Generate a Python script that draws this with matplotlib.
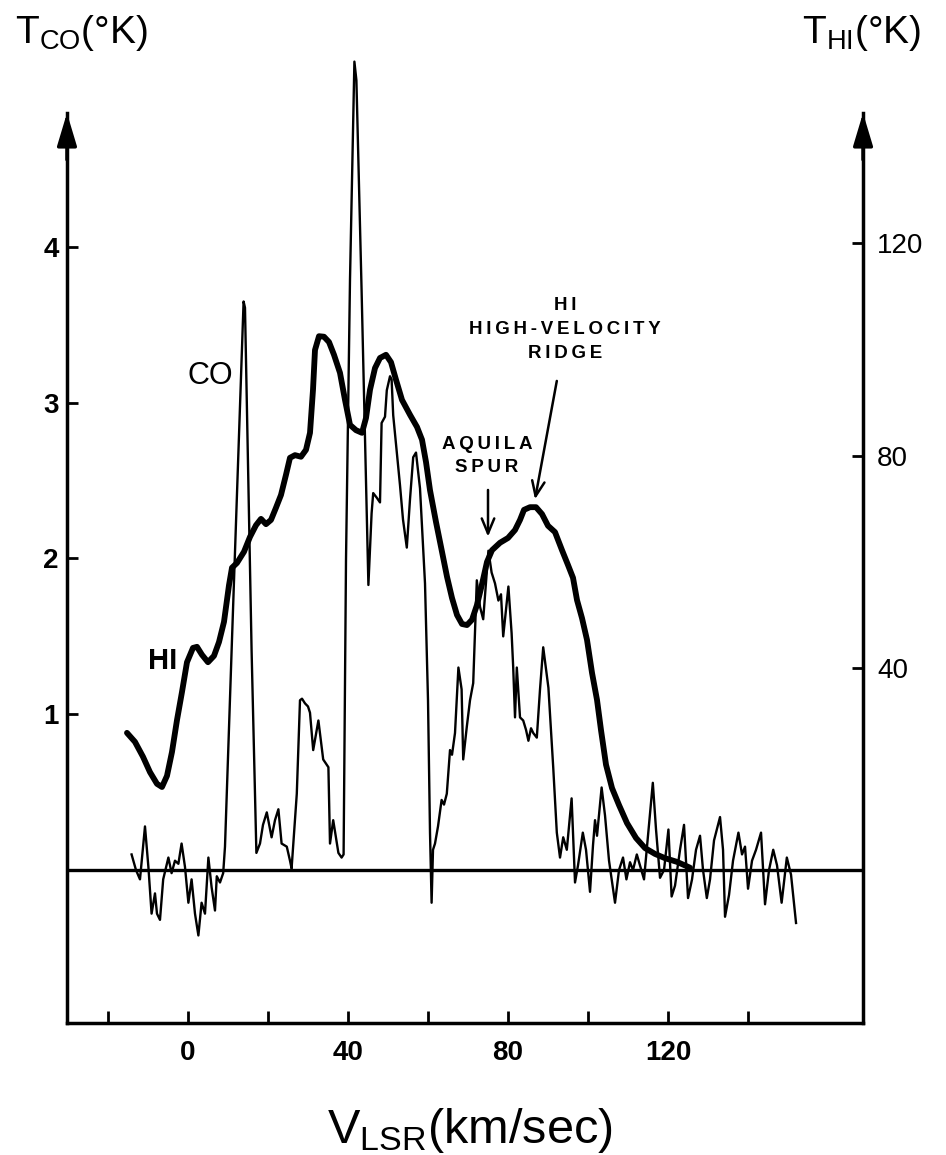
import matplotlib
matplotlib.use('Agg')
from matplotlib import pyplot as plt
import numpy as np

plt.rcParams['font.family'] = ['Liberation Sans', 'DejaVu Sans']
plt.rcParams['mathtext.fontset'] = 'custom'
plt.rcParams['mathtext.rm'] = 'Liberation Sans'
plt.rcParams['mathtext.it'] = 'Liberation Sans'

# CO spectrum (thin trace), V_LSR in km/s, T_CO in K
co_v = [-14.1, -13.0, -12.0, -10.75, -9.9, -9.1, -8.25, -7.75, -7.0, -6.2,
        -4.9, -4.1, -3.25, -2.4, -1.6, -0.75, 0.1, 0.9, 1.75, 2.6,
        3.4, 4.25, 5.1, 5.9, 6.75, 7.2, 8.0, 8.8, 9.25, 11.0,
        13.9, 14.25, 15.9, 17.1, 18.0, 18.75, 19.7, 20.9, 21.75, 22.6,
        23.4, 24.7, 25.5, 25.9, 27.2, 28.0, 28.5, 29.25, 30.0, 30.5,
        31.3, 32.6, 33.8, 35.1, 35.5, 36.3, 37.6, 38.4, 38.9, 39.5,
        40.5, 41.6, 42.1, 43.4, 45.1, 45.9, 46.3, 47.2, 48.0, 48.4,
        49.25, 49.7, 50.5, 50.9, 51.3, 53.0, 53.75, 54.7, 55.5, 56.3,
        57.0, 58.0, 59.25, 60.0, 60.5, 60.9, 61.25, 61.75, 62.5, 63.4,
        64.0, 64.7, 65.5, 66.0, 66.75, 67.6, 68.4, 68.8, 69.7, 70.5,
        71.3, 72.2, 73.0, 73.8, 75.1, 75.9, 76.75, 77.6, 78.25, 78.8,
        80.1, 80.9, 81.3, 81.75, 82.2, 83.0, 83.8, 84.5, 85.1, 85.75,
        86.3, 87.2, 88.0, 88.8, 90.1, 91.3, 92.2, 93.0, 93.8, 94.7,
        95.9, 96.75, 97.5, 98.7, 99.5, 100.5, 101.25, 101.75, 102.25, 103.4,
        104.25, 105.25, 106.75, 107.75, 108.75, 109.6, 110.5, 111.25, 112.2, 113.0,
        114.0, 115.0, 116.2, 117.0, 118.0, 119.0, 120.1, 120.9, 121.75, 123.0,
        124.0, 125.0, 126.0, 127.0, 128.0, 128.75, 129.7, 130.5, 131.5, 133.0,
        133.75, 134.25, 135.25, 136.25, 137.6, 138.5, 139.25, 140.0, 141.0, 142.0,
        143.25, 144.25, 145.25, 146.3, 147.25, 148.4, 149.7, 150.75, 152.0]
co_t = [0.10, 0.00, -0.06, 0.28, 0.02, -0.28, -0.15, -0.28, -0.32, -0.06,
        0.08, -0.02, 0.06, 0.04, 0.17, 0.02, -0.21, -0.06, -0.28, -0.42,
        -0.21, -0.28, 0.08, -0.11, -0.26, -0.04, -0.08, -0.02, 0.15, 1.48,
        3.65, 3.61, 1.41, 0.11, 0.17, 0.29, 0.37, 0.21, 0.32, 0.39,
        0.17, 0.15, 0.06, 0.01, 0.49, 1.09, 1.10, 1.07, 1.05, 1.01,
        0.77, 0.96, 0.71, 0.66, 0.17, 0.32, 0.11, 0.08, 0.10, 1.99,
        3.79, 5.19, 5.07, 3.72, 1.83, 2.29, 2.42, 2.39, 2.36, 2.87,
        2.91, 3.08, 3.17, 3.15, 2.92, 2.47, 2.25, 2.07, 2.38, 2.65,
        2.68, 2.45, 1.84, 1.09, 0.24, -0.21, 0.13, 0.17, 0.28, 0.45,
        0.42, 0.49, 0.77, 0.74, 0.88, 1.30, 1.16, 0.71, 0.92, 1.09,
        1.20, 1.86, 1.69, 1.61, 2.05, 1.91, 1.84, 1.73, 1.77, 1.50,
        1.82, 1.52, 1.30, 0.98, 1.30, 0.98, 0.96, 0.90, 0.83, 0.91,
        0.88, 0.85, 1.16, 1.43, 1.17, 0.66, 0.24, 0.08, 0.21, 0.13,
        0.46, -0.08, 0.03, 0.24, 0.13, -0.14, 0.16, 0.32, 0.22, 0.53,
        0.35, 0.06, -0.21, 0.00, 0.08, -0.06, 0.05, 0.00, 0.10, 0.03,
        -0.06, 0.22, 0.56, 0.26, -0.05, 0.00, 0.26, -0.17, -0.10, 0.13,
        0.29, -0.18, -0.06, 0.13, 0.22, 0.00, -0.18, -0.06, 0.19, 0.34,
        0.13, -0.30, -0.16, 0.06, 0.24, 0.10, 0.15, -0.12, 0.06, 0.13,
        0.24, -0.22, 0.00, 0.13, 0.03, -0.21, 0.08, -0.03, -0.34]

# HI profile (thick trace), T_HI in K
hi_v = [-15.25, -13.25, -11.25, -9.5, -7.75, -6.5, -5.25, -4.0, -2.75, -1.5,
        -0.25, 1.25, 2.25, 3.5, 5.0, 6.5, 7.75, 9.0, 10.25, 11.0,
        12.25, 14.0, 15.5, 17.0, 18.25, 19.5, 20.75, 22.0, 23.25, 24.5,
        25.5, 26.75, 28.25, 29.5, 30.5, 31.25, 31.75, 32.75, 34.0, 35.25,
        36.5, 38.0, 39.25, 40.5, 42.0, 43.5, 44.5, 45.5, 46.75, 48.0,
        49.5, 50.75, 52.0, 53.5, 55.5, 57.25, 58.5, 59.5, 60.5, 62.0,
        63.5, 64.75, 66.0, 67.25, 68.5, 69.75, 71.0, 72.25, 73.5, 74.75,
        76.0, 78.0, 80.0, 81.75, 83.0, 84.0, 85.5, 87.0, 88.5, 90.0,
        91.75, 93.5, 95.0, 96.25, 97.25, 98.5, 99.75, 101.0, 102.25, 103.25,
        104.5, 106.0, 107.75, 109.75, 112.0, 114.25, 116.75, 119.25, 122.25, 125.5]
hi_t = [27.8, 26.1, 23.3, 20.4, 18.2, 17.6, 19.7, 24.2, 30.2, 35.5,
        41.1, 43.8, 44.0, 42.5, 41.1, 42.3, 44.9, 48.7, 55.6, 58.9,
        59.8, 61.9, 64.7, 66.9, 68.1, 67.1, 67.9, 70.2, 72.6, 76.4,
        79.6, 80.1, 79.8, 81.1, 84.3, 92.4, 99.9, 102.5, 102.4, 101.4,
        99.0, 95.6, 90.5, 85.8, 84.8, 84.3, 87.1, 92.4, 96.5, 98.4,
        99.0, 97.6, 94.3, 90.5, 87.7, 85.4, 83.0, 78.8, 73.5, 67.5,
        61.9, 57.2, 53.2, 50.0, 48.3, 48.1, 49.1, 51.9, 55.8, 60.0,
        62.2, 63.6, 64.5, 66.0, 67.9, 69.8, 70.3, 70.3, 69.0, 66.8,
        65.6, 62.2, 59.4, 57.0, 52.8, 49.4, 45.3, 39.1, 34.0, 28.3,
        21.8, 17.4, 14.2, 10.8, 8.0, 6.1, 5.0, 4.2, 3.5, 2.4]

v_ticks = np.arange(-20, 141, 20)
v_labels = ['', '0', '', '40', '', '80', '', '120', '']
co_ticks = [1, 2, 3, 4]
hi_ticks = [40, 80, 120]

fig = plt.figure(figsize=(9.46, 11.55), dpi=100)
ax = fig.add_axes([0.0708, 0.1143, 0.8415, 0.8511])
ax.set_xlim(-30.25, 168.75)
ax.set_ylim(-0.982, 5.329)
ax_hi = ax.twinx()
ax_hi.set_ylim(-26.84, 158.29)

co_top = 4.86
hi_top = 144.5

for side in ['top', 'right']:
    ax.spines[side].set_visible(False)
for side in ['top', 'left', 'bottom']:
    ax_hi.spines[side].set_visible(False)
ax.spines['left'].set_bounds(-0.982, co_top)
ax_hi.spines['right'].set_bounds(-26.84, hi_top)
for sp in [ax.spines['left'], ax.spines['bottom'], ax_hi.spines['right']]:
    sp.set_linewidth(2.5)

ax.set_xticks(v_ticks)
ax.set_xticklabels(v_labels, fontsize=20, fontweight='bold')
ax.set_yticks(co_ticks)
ax.set_yticklabels([str(t) for t in co_ticks], fontsize=20, fontweight='bold')
ax.tick_params(axis='x', direction='in', length=9, width=2, pad=12)
ax.tick_params(axis='y', direction='in', length=8, width=2, pad=6)
ax_hi.set_yticks(hi_ticks)
ax_hi.set_yticklabels([str(t) for t in hi_ticks], fontsize=20)
ax_hi.tick_params(axis='y', direction='in', length=8, width=2, pad=10)

# arrowheads on the two vertical axes
for xa in [0, 1]:
    ax.annotate('', xy=(xa, co_top), xytext=(xa, co_top - 0.3),
                xycoords=('axes fraction', 'data'),
                arrowprops=dict(arrowstyle='-|>,head_length=1.0,head_width=0.3',
                                color='black', lw=2.5, mutation_scale=20,
                                shrinkA=0, shrinkB=0))

ax.axhline(0, color='black', lw=2.4)
ax.plot(co_v, co_t, color='black', lw=1.7, solid_joinstyle='round')
ax_hi.plot(hi_v, hi_t, color='black', lw=4.2, solid_joinstyle='round',
           solid_capstyle='round')

ax.text(5.5, 3.17, 'CO', fontsize=22, ha='center', va='center')
ax.text(-6.4, 1.34, 'HI', fontsize=21, fontweight='bold', ha='center', va='center')


def spaced(s):
    return '\u2009'.join(s)


ax.text(94.25, 3.47, '\n'.join(spaced(s) for s in ['HI', 'HIGH-VELOCITY', 'RIDGE']),
        fontsize=13.5, fontweight='bold', ha='center', va='center', linespacing=1.55)
ax.text(74.75, 2.66, '\n'.join(spaced(s) for s in ['AQUILA', 'SPUR']),
        fontsize=13.5, fontweight='bold', ha='center', va='center', linespacing=1.45)
ax.annotate('', xy=(75, 2.14), xytext=(75, 2.44),
            arrowprops=dict(arrowstyle='->,head_length=0.6,head_width=0.25',
                            color='black', lw=1.8, mutation_scale=18,
                            shrinkA=0, shrinkB=0))
ax.annotate('', xy=(86.75, 2.38), xytext=(92.2, 3.14),
            arrowprops=dict(arrowstyle='->,head_length=0.6,head_width=0.25',
                            color='black', lw=1.8, mutation_scale=18,
                            shrinkA=0, shrinkB=0))

fig.text(0.0159, 0.9628, r'T$_{\rm CO}$(°K)', fontsize=28, ha='left', va='baseline')
fig.text(0.8475, 0.9628, r'T$_{\rm HI}$(°K)', fontsize=28, ha='left', va='baseline')
fig.text(0.497, 0.0104, r'V$_{\rm LSR}$(km/sec)', fontsize=35,
         ha='center', va='baseline')

fig.savefig('out.png', dpi=100)
